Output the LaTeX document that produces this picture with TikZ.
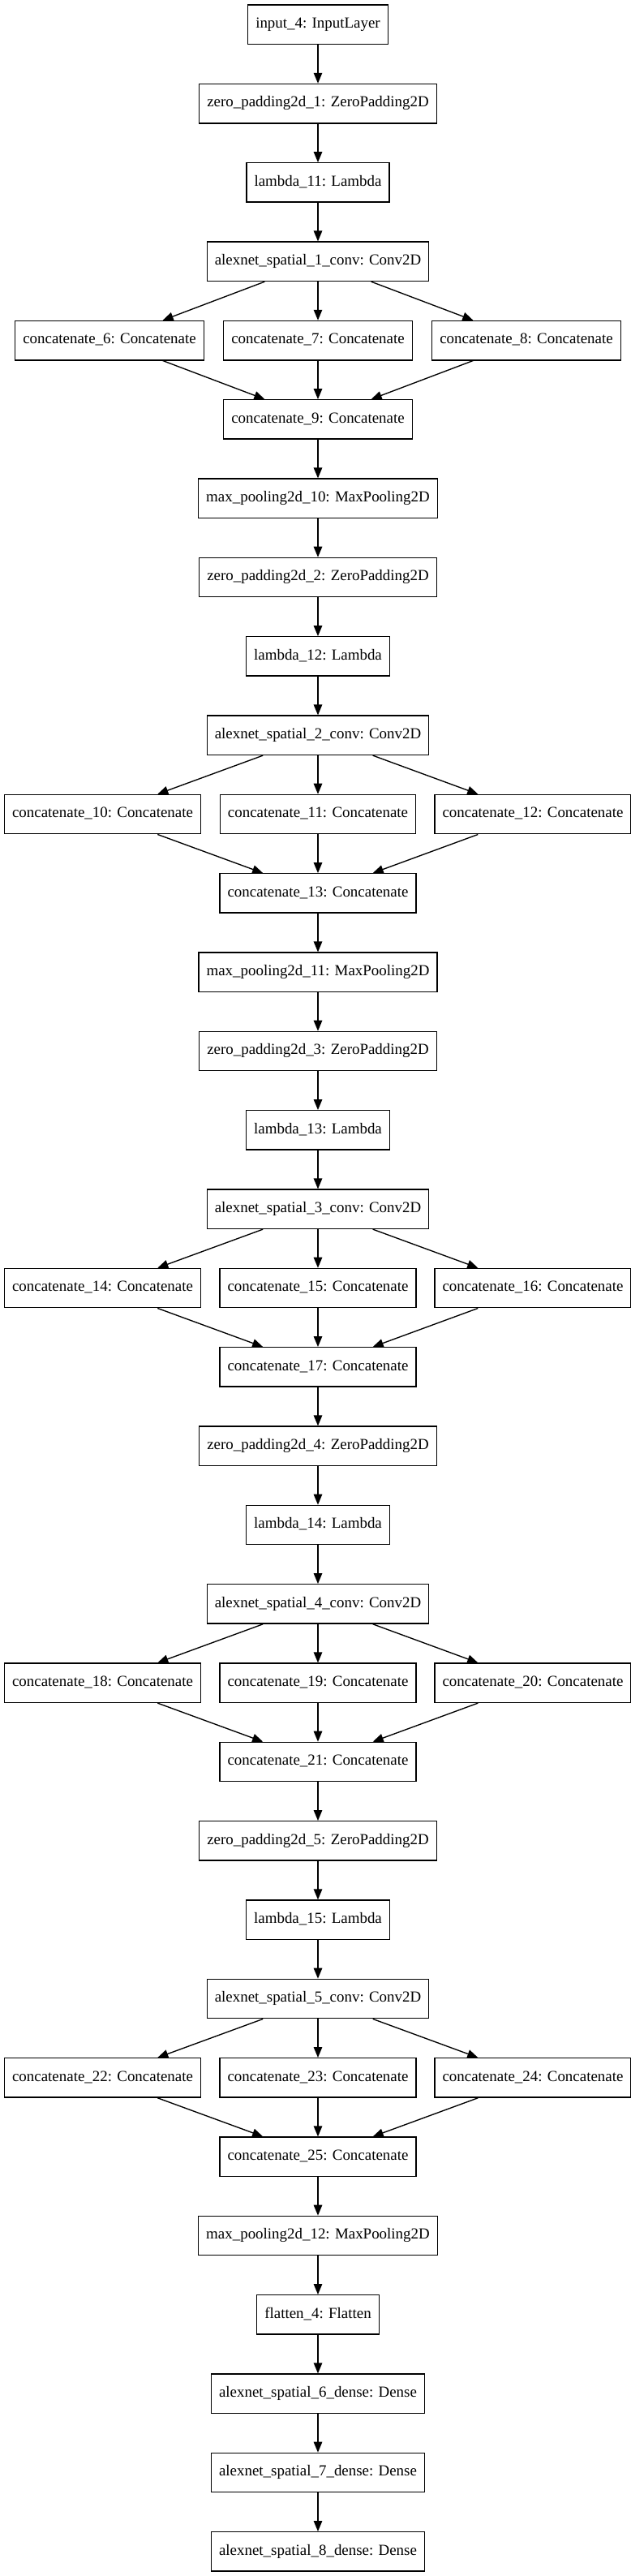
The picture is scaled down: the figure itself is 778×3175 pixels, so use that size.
\documentclass[tikz,border=0pt]{standalone}
\usepackage{fontspec}
\setmainfont{Liberation Serif}
\usetikzlibrary{arrows.meta}
\begin{document}
\begin{tikzpicture}[x=1pt,y=1pt,
  layer/.style={draw=black, rectangle, line width=1.35pt, minimum height=48.4pt,
    inner xsep=9.5pt, inner ysep=0pt, text height=13pt, text depth=4.3pt,
    font=\fontsize{18.93}{22}\selectfont},
  edge/.style={line width=1.35pt, -{Triangle[length=13pt,width=10.5pt]}}]
\fill[white] (0,0) rectangle (778,-3175);
\useasboundingbox (0,0) rectangle (778,-3175);
% main column
\node[layer] (n1) at (392,-30.3) {input\_4: InputLayer};
\node[layer] (n2) at (392,-127.63) {zero\_padding2d\_1: ZeroPadding2D};
\node[layer] (n3) at (392,-224.96) {lambda\_11: Lambda};
\node[layer] (n4) at (392,-322.29) {alexnet\_spatial\_1\_conv: Conv2D};
\node[layer] (c6) at (135,-419.62) {concatenate\_6: Concatenate};
\node[layer] (c7) at (392,-419.62) {concatenate\_7: Concatenate};
\node[layer] (c8) at (649,-419.62) {concatenate\_8: Concatenate};
\node[layer] (c9) at (392,-516.95) {concatenate\_9: Concatenate};
\node[layer] (n7) at (392,-614.28) {max\_pooling2d\_10: MaxPooling2D};
\node[layer] (n8) at (392,-711.61) {zero\_padding2d\_2: ZeroPadding2D};
\node[layer] (n9) at (392,-808.94) {lambda\_12: Lambda};
\node[layer] (n10) at (392,-906.27) {alexnet\_spatial\_2\_conv: Conv2D};
\node[layer] (c10) at (126.5,-1003.6) {concatenate\_10: Concatenate};
\node[layer] (c11) at (392,-1003.6) {concatenate\_11: Concatenate};
\node[layer] (c12) at (657,-1003.6) {concatenate\_12: Concatenate};
\node[layer] (c13) at (392,-1100.93) {concatenate\_13: Concatenate};
\node[layer] (n13) at (392,-1198.26) {max\_pooling2d\_11: MaxPooling2D};
\node[layer] (n14) at (392,-1295.59) {zero\_padding2d\_3: ZeroPadding2D};
\node[layer] (n15) at (392,-1392.92) {lambda\_13: Lambda};
\node[layer] (n16) at (392,-1490.25) {alexnet\_spatial\_3\_conv: Conv2D};
\node[layer] (c14) at (126.5,-1587.58) {concatenate\_14: Concatenate};
\node[layer] (c15) at (392,-1587.58) {concatenate\_15: Concatenate};
\node[layer] (c16) at (657,-1587.58) {concatenate\_16: Concatenate};
\node[layer] (c17) at (392,-1684.91) {concatenate\_17: Concatenate};
\node[layer] (n19) at (392,-1782.24) {zero\_padding2d\_4: ZeroPadding2D};
\node[layer] (n20) at (392,-1879.57) {lambda\_14: Lambda};
\node[layer] (n21) at (392,-1976.9) {alexnet\_spatial\_4\_conv: Conv2D};
\node[layer] (c18) at (126.5,-2074.23) {concatenate\_18: Concatenate};
\node[layer] (c19) at (392,-2074.23) {concatenate\_19: Concatenate};
\node[layer] (c20) at (657,-2074.23) {concatenate\_20: Concatenate};
\node[layer] (c21) at (392,-2171.56) {concatenate\_21: Concatenate};
\node[layer] (n24) at (392,-2268.89) {zero\_padding2d\_5: ZeroPadding2D};
\node[layer] (n25) at (392,-2366.22) {lambda\_15: Lambda};
\node[layer] (n26) at (392,-2463.55) {alexnet\_spatial\_5\_conv: Conv2D};
\node[layer] (c22) at (126.5,-2560.88) {concatenate\_22: Concatenate};
\node[layer] (c23) at (392,-2560.88) {concatenate\_23: Concatenate};
\node[layer] (c24) at (657,-2560.88) {concatenate\_24: Concatenate};
\node[layer] (c25) at (392,-2658.21) {concatenate\_25: Concatenate};
\node[layer] (n29) at (392,-2755.54) {max\_pooling2d\_12: MaxPooling2D};
\node[layer] (n30) at (392,-2852.87) {flatten\_4: Flatten};
\node[layer] (n31) at (392,-2950.2) {alexnet\_spatial\_6\_dense: Dense};
\node[layer] (n32) at (392,-3047.53) {alexnet\_spatial\_7\_dense: Dense};
\node[layer] (n33) at (392,-3144.86) {alexnet\_spatial\_8\_dense: Dense};
% edges
\draw[edge] (n1) -- (n2);
\draw[edge] (n2) -- (n3);
\draw[edge] (n3) -- (n4);
\foreach \c in {c6,c7,c8}{\draw[edge] (n4) -- (\c); \draw[edge] (\c) -- (c9);}
\draw[edge] (c9) -- (n7);
\draw[edge] (n7) -- (n8);
\draw[edge] (n8) -- (n9);
\draw[edge] (n9) -- (n10);
\foreach \c in {c10,c11,c12}{\draw[edge] (n10) -- (\c); \draw[edge] (\c) -- (c13);}
\draw[edge] (c13) -- (n13);
\draw[edge] (n13) -- (n14);
\draw[edge] (n14) -- (n15);
\draw[edge] (n15) -- (n16);
\foreach \c in {c14,c15,c16}{\draw[edge] (n16) -- (\c); \draw[edge] (\c) -- (c17);}
\draw[edge] (c17) -- (n19);
\draw[edge] (n19) -- (n20);
\draw[edge] (n20) -- (n21);
\foreach \c in {c18,c19,c20}{\draw[edge] (n21) -- (\c); \draw[edge] (\c) -- (c21);}
\draw[edge] (c21) -- (n24);
\draw[edge] (n24) -- (n25);
\draw[edge] (n25) -- (n26);
\foreach \c in {c22,c23,c24}{\draw[edge] (n26) -- (\c); \draw[edge] (\c) -- (c25);}
\draw[edge] (c25) -- (n29);
\draw[edge] (n29) -- (n30);
\draw[edge] (n30) -- (n31);
\draw[edge] (n31) -- (n32);
\draw[edge] (n32) -- (n33);
\end{tikzpicture}
\end{document}
